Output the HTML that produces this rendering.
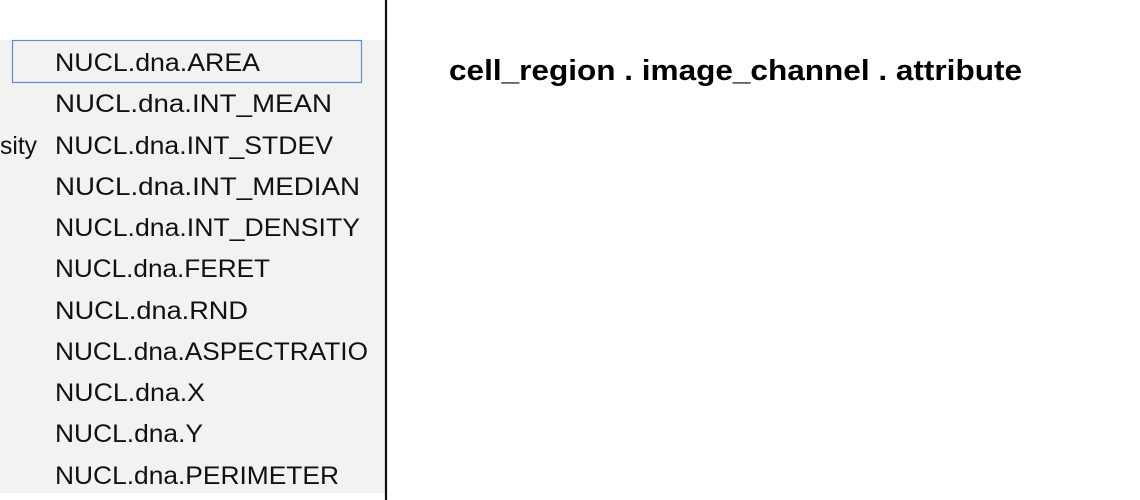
<!DOCTYPE html>
<html><head><style>
html,body{margin:0;padding:0;background:#fff;width:1140px;height:500px;overflow:hidden}
svg text{font-family:"Liberation Sans",sans-serif;}
</style></head><body>
<svg width="1140" height="500" xmlns="http://www.w3.org/2000/svg">
<rect x="0" y="40" width="385" height="453" fill="#f2f2f2"/>
<rect x="12.5" y="40.5" width="349" height="42" fill="#f2f2f2" stroke="#5b8fd0" stroke-width="1.2"/>
<line x1="386" y1="0" x2="386" y2="500" stroke="#111" stroke-width="2.2"/>
<g fill="#111" font-size="25">
<text x="55" y="71" textLength="205" lengthAdjust="spacingAndGlyphs">NUCL.dna.AREA</text>
<text x="55" y="112" textLength="277" lengthAdjust="spacingAndGlyphs">NUCL.dna.INT_MEAN</text>
<text x="0" y="154" textLength="37" lengthAdjust="spacingAndGlyphs">sity</text>
<text x="55" y="154" textLength="278" lengthAdjust="spacingAndGlyphs">NUCL.dna.INT_STDEV</text>
<text x="55" y="195" textLength="305" lengthAdjust="spacingAndGlyphs">NUCL.dna.INT_MEDIAN</text>
<text x="55" y="236" textLength="305" lengthAdjust="spacingAndGlyphs">NUCL.dna.INT_DENSITY</text>
<text x="55" y="277" textLength="215" lengthAdjust="spacingAndGlyphs">NUCL.dna.FERET</text>
<text x="55" y="319" textLength="193" lengthAdjust="spacingAndGlyphs">NUCL.dna.RND</text>
<text x="55" y="360" textLength="313" lengthAdjust="spacingAndGlyphs">NUCL.dna.ASPECTRATIO</text>
<text x="55" y="401" textLength="150" lengthAdjust="spacingAndGlyphs">NUCL.dna.X</text>
<text x="55" y="442" textLength="148" lengthAdjust="spacingAndGlyphs">NUCL.dna.Y</text>
<text x="55" y="484" textLength="284" lengthAdjust="spacingAndGlyphs">NUCL.dna.PERIMETER</text>
</g>
<text x="449" y="80" font-size="29" font-weight="bold" fill="#000" textLength="573" lengthAdjust="spacingAndGlyphs">cell_region . image_channel . attribute</text>
</svg>
</body></html>
